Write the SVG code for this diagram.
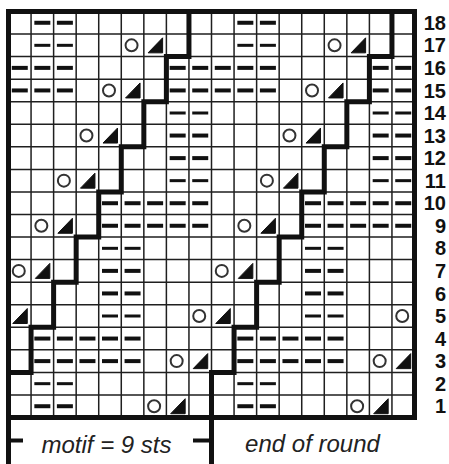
<svg xmlns="http://www.w3.org/2000/svg" xmlns:xlink="http://www.w3.org/1999/xlink" width="449" height="464" viewBox="0 0 449 464">
<style>
.grid{fill:none;stroke:#1f1f1f;stroke-width:1.5}
.thick{fill:none;stroke:#111;stroke-width:5;stroke-linejoin:miter;stroke-linecap:square}
.tick{fill:none;stroke:#111;stroke-width:4}
.num{font-family:"Liberation Sans",Arial,sans-serif;font-weight:700;font-size:20px;fill:#111;text-anchor:end}
.cap{font-family:"Liberation Sans",Arial,sans-serif;font-style:italic;font-size:24px;fill:#222;text-anchor:middle}
</style>
<defs>
<g id="D"><line x1="-8" y1="0" x2="8" y2="0" stroke="#111" stroke-width="4"/></g>
<g id="d"><line x1="-8" y1="0" x2="8" y2="0" stroke="#111" stroke-width="3"/></g>
<g id="O"><circle cx="-1" cy="0" r="6" fill="none" stroke="#333" stroke-width="2"/></g>
<g id="T"><path d="M-7,7.5 L7.5,7.5 L7.5,-7.5 Z" fill="#111" stroke="#111" stroke-width="1" stroke-linejoin="round"/></g>
</defs>
<rect x="0" y="0" width="449" height="464" fill="#fff"/>
<g id="grid">
<path class="grid" d="M31.06,11.5V417.5M53.61,11.5V417.5M76.17,11.5V417.5M98.72,11.5V417.5M121.28,11.5V417.5M143.84,11.5V417.5M166.39,11.5V417.5M188.95,11.5V417.5M211.5,11.5V417.5M234.06,11.5V417.5M256.62,11.5V417.5M279.17,11.5V417.5M301.73,11.5V417.5M324.28,11.5V417.5M346.84,11.5V417.5M369.4,11.5V417.5M391.95,11.5V417.5
M8.5,34.05H414.5M8.5,56.61H414.5M8.5,79.16H414.5M8.5,101.72H414.5M8.5,124.27H414.5M8.5,146.83H414.5M8.5,169.39H414.5M8.5,191.94H414.5M8.5,214.5H414.5M8.5,237.05H414.5M8.5,259.61H414.5M8.5,282.16H414.5M8.5,304.72H414.5M8.5,327.28H414.5M8.5,349.83H414.5M8.5,372.39H414.5M8.5,394.94H414.5"/>
</g>
<g id="symbols">
<!-- row 18 -->
<use href="#D" x="42.34" y="22.77"/><use href="#D" x="64.89" y="22.77"/><use href="#D" x="245.34" y="22.77"/><use href="#D" x="267.9" y="22.77"/>
<!-- row 17 -->
<use href="#d" x="42.34" y="45.33"/><use href="#d" x="64.89" y="45.33"/><use href="#d" x="245.34" y="45.33"/><use href="#d" x="267.9" y="45.33"/>
<use href="#O" x="132.56" y="45.33"/><use href="#T" x="155.12" y="45.33"/><use href="#O" x="335.56" y="45.33"/><use href="#T" x="358.12" y="45.33"/>
<!-- row 16 -->
<use href="#D" x="19.78" y="67.88"/><use href="#D" x="42.34" y="67.88"/><use href="#D" x="64.89" y="67.88"/><use href="#D" x="177.67" y="67.88"/><use href="#D" x="200.23" y="67.88"/>
<use href="#D" x="222.78" y="67.88"/><use href="#D" x="245.34" y="67.88"/><use href="#D" x="267.9" y="67.88"/><use href="#D" x="380.68" y="67.88"/><use href="#D" x="403.23" y="67.88"/>
<!-- row 15 -->
<use href="#D" x="19.78" y="90.44"/><use href="#D" x="42.34" y="90.44"/><use href="#D" x="64.89" y="90.44"/><use href="#D" x="177.67" y="90.44"/><use href="#D" x="200.23" y="90.44"/>
<use href="#D" x="222.78" y="90.44"/><use href="#D" x="245.34" y="90.44"/><use href="#D" x="267.9" y="90.44"/><use href="#D" x="380.68" y="90.44"/><use href="#D" x="403.23" y="90.44"/>
<use href="#O" x="110" y="90.44"/><use href="#T" x="132.56" y="90.44"/><use href="#O" x="313.01" y="90.44"/><use href="#T" x="335.56" y="90.44"/>
<!-- row 14 -->
<use href="#d" x="177.67" y="113"/><use href="#d" x="200.23" y="113"/><use href="#d" x="380.68" y="113"/><use href="#d" x="403.23" y="113"/>
<!-- row 13 -->
<use href="#O" x="87.45" y="135.55"/><use href="#T" x="110" y="135.55"/><use href="#O" x="290.45" y="135.55"/><use href="#T" x="313.01" y="135.55"/>
<use href="#D" x="177.67" y="135.55"/><use href="#D" x="200.23" y="135.55"/><use href="#D" x="380.68" y="135.55"/><use href="#D" x="403.23" y="135.55"/>
<!-- row 12 -->
<use href="#D" x="177.67" y="158.11"/><use href="#D" x="200.23" y="158.11"/><use href="#D" x="380.68" y="158.11"/><use href="#D" x="403.23" y="158.11"/>
<!-- row 11 -->
<use href="#O" x="64.89" y="180.66"/><use href="#T" x="87.45" y="180.66"/><use href="#O" x="267.9" y="180.66"/><use href="#T" x="290.45" y="180.66"/>
<use href="#d" x="177.67" y="180.66"/><use href="#d" x="200.23" y="180.66"/><use href="#d" x="380.68" y="180.66"/><use href="#d" x="403.23" y="180.66"/>
<!-- row 10 -->
<use href="#D" x="110" y="203.22"/><use href="#D" x="132.56" y="203.22"/><use href="#D" x="155.12" y="203.22"/><use href="#D" x="177.67" y="203.22"/><use href="#D" x="200.23" y="203.22"/>
<use href="#D" x="313.01" y="203.22"/><use href="#D" x="335.56" y="203.22"/><use href="#D" x="358.12" y="203.22"/><use href="#D" x="380.68" y="203.22"/><use href="#D" x="403.23" y="203.22"/>
<!-- row 9 -->
<use href="#O" x="42.34" y="225.77"/><use href="#T" x="64.89" y="225.77"/><use href="#O" x="245.34" y="225.77"/><use href="#T" x="267.9" y="225.77"/>
<use href="#D" x="110" y="225.77"/><use href="#D" x="132.56" y="225.77"/><use href="#D" x="155.12" y="225.77"/><use href="#D" x="177.67" y="225.77"/><use href="#D" x="200.23" y="225.77"/>
<use href="#D" x="313.01" y="225.77"/><use href="#D" x="335.56" y="225.77"/><use href="#D" x="358.12" y="225.77"/><use href="#D" x="380.68" y="225.77"/><use href="#D" x="403.23" y="225.77"/>
<!-- row 8 -->
<use href="#d" x="110" y="248.33"/><use href="#d" x="132.56" y="248.33"/><use href="#d" x="313.01" y="248.33"/><use href="#d" x="335.56" y="248.33"/>
<!-- row 7 -->
<use href="#O" x="19.78" y="270.89"/><use href="#T" x="42.34" y="270.89"/><use href="#O" x="222.78" y="270.89"/><use href="#T" x="245.34" y="270.89"/>
<use href="#D" x="110" y="270.89"/><use href="#D" x="132.56" y="270.89"/><use href="#D" x="313.01" y="270.89"/><use href="#D" x="335.56" y="270.89"/>
<!-- row 6 -->
<use href="#D" x="110" y="293.44"/><use href="#D" x="132.56" y="293.44"/><use href="#D" x="313.01" y="293.44"/><use href="#D" x="335.56" y="293.44"/>
<!-- row 5 -->
<use href="#T" x="19.78" y="316"/><use href="#O" x="200.23" y="316"/><use href="#T" x="222.78" y="316"/><use href="#O" x="403.23" y="316"/>
<use href="#d" x="110" y="316"/><use href="#d" x="132.56" y="316"/><use href="#d" x="313.01" y="316"/><use href="#d" x="335.56" y="316"/>
<!-- row 4 -->
<use href="#D" x="42.34" y="338.55"/><use href="#D" x="64.89" y="338.55"/><use href="#D" x="87.45" y="338.55"/><use href="#D" x="110" y="338.55"/><use href="#D" x="132.56" y="338.55"/>
<use href="#D" x="245.34" y="338.55"/><use href="#D" x="267.9" y="338.55"/><use href="#D" x="290.45" y="338.55"/><use href="#D" x="313.01" y="338.55"/><use href="#D" x="335.56" y="338.55"/>
<!-- row 3 -->
<use href="#D" x="42.34" y="361.11"/><use href="#D" x="64.89" y="361.11"/><use href="#D" x="87.45" y="361.11"/><use href="#D" x="110" y="361.11"/><use href="#D" x="132.56" y="361.11"/>
<use href="#D" x="245.34" y="361.11"/><use href="#D" x="267.9" y="361.11"/><use href="#D" x="290.45" y="361.11"/><use href="#D" x="313.01" y="361.11"/><use href="#D" x="335.56" y="361.11"/>
<use href="#O" x="177.67" y="361.11"/><use href="#T" x="200.23" y="361.11"/><use href="#O" x="380.68" y="361.11"/><use href="#T" x="403.23" y="361.11"/>
<!-- row 2 -->
<use href="#d" x="42.34" y="383.67"/><use href="#d" x="64.89" y="383.67"/><use href="#d" x="245.34" y="383.67"/><use href="#d" x="267.9" y="383.67"/>
<!-- row 1 -->
<use href="#D" x="42.34" y="406.22"/><use href="#D" x="64.89" y="406.22"/><use href="#D" x="245.34" y="406.22"/><use href="#D" x="267.9" y="406.22"/>
<use href="#O" x="155.12" y="406.22"/><use href="#T" x="177.67" y="406.22"/><use href="#O" x="358.12" y="406.22"/><use href="#T" x="380.68" y="406.22"/>
</g>
<g id="connectors">
<rect class="thick" x="8.5" y="11.5" width="406" height="406" stroke-linecap="butt"/>
<path class="thick" d="M188.95,11.5V56.61H166.39V101.72H143.84V146.83H121.28V191.94H98.72V237.05H76.17V282.16H53.61V327.28H31.06V372.39H8.5"/>
<path class="thick" d="M391.95,11.5V56.61H369.4V101.72H346.84V146.83H324.28V191.94H301.73V237.05H279.17V282.16H256.62V327.28H234.06V372.39H211.5V466"/>
<path class="thick" d="M8.5,417.5V466" stroke-linecap="butt"/>
<path class="tick" d="M8.5,440.5H23M193,440.5H211.5"/>
</g>
<g id="labels">
<text class="cap" x="106.5" y="453">motif = 9 sts</text>
<text class="cap" x="312.5" y="452">end of round</text>
</g>
<g id="row-numbers">
<text class="num" x="446" y="29.9">18</text>
<text class="num" x="446" y="52.4">17</text>
<text class="num" x="446" y="75">16</text>
<text class="num" x="446" y="97.5">15</text>
<text class="num" x="446" y="120.1">14</text>
<text class="num" x="446" y="142.7">13</text>
<text class="num" x="446" y="165.2">12</text>
<text class="num" x="446" y="187.8">11</text>
<text class="num" x="446" y="210.3">10</text>
<text class="num" x="446" y="232.9">9</text>
<text class="num" x="446" y="255.4">8</text>
<text class="num" x="446" y="278">7</text>
<text class="num" x="446" y="300.5">6</text>
<text class="num" x="446" y="323.1">5</text>
<text class="num" x="446" y="345.7">4</text>
<text class="num" x="446" y="368.2">3</text>
<text class="num" x="446" y="390.8">2</text>
<text class="num" x="446" y="413.3">1</text>
</g>
</svg>
